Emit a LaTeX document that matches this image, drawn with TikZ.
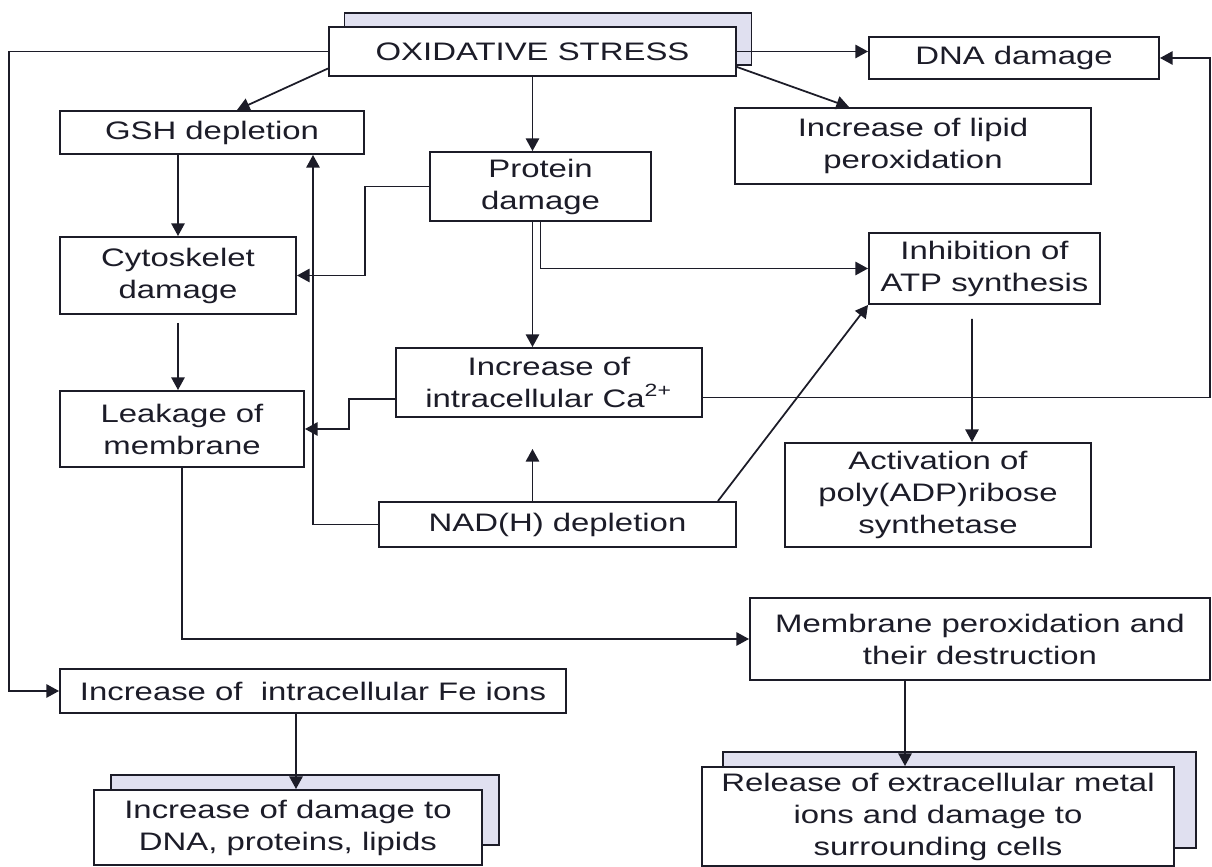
\documentclass[tikz,border=0pt]{standalone}
\usepackage{fontspec}
\setmainfont[FakeStretch=1.3]{Liberation Sans}
\usetikzlibrary{arrows.meta,calc,positioning}
\definecolor{ink}{RGB}{28,28,40}
\definecolor{shade}{RGB}{224,224,240}

\begin{document}
\begin{tikzpicture}[
  x=1cm,
  y=1cm,
  font=\fontsize{7.2}{9.1}\selectfont,
  >=Stealth,
  box/.style={draw=ink, fill=white, line width=0.55pt, align=center, inner sep=1pt, text=ink},
  backbox/.style={draw=ink, fill=shade, line width=0.55pt, inner sep=0pt},
  link/.style={-{Triangle[length=3.6pt,width=3.8pt]}, draw=ink, line width=0.5pt}
]
  \useasboundingbox (0,0) rectangle (12.12,-8.67);

  \node[backbox, minimum width=4.07cm, minimum height=0.52cm] (stressbg) at (5.48,-0.39) {};
  \node[box, minimum width=4.07cm, minimum height=0.49cm] (stress) at (5.325,-0.515) {OXIDATIVE STRESS};

  \node[box, minimum width=2.90cm, minimum height=0.42cm] (dna) at (10.14,-0.58) {DNA damage};
  \node[box, minimum width=3.56cm, minimum height=0.76cm] (lipid) at (9.13,-1.46) {Increase of lipid\\peroxidation};
  \node[box, minimum width=3.04cm, minimum height=0.43cm] (gsh) at (2.12,-1.325) {GSH depletion};
  \node[box, minimum width=2.21cm, minimum height=0.69cm] (protein) at (5.405,-1.865) {Protein\\damage};
  \node[box, minimum width=2.31cm, minimum height=0.71cm] (atp) at (9.845,-2.685) {Inhibition of\\ATP synthesis};
  \node[box, minimum width=2.36cm, minimum height=0.77cm] (cyto) at (1.78,-2.755) {Cytoskelet\\damage};
  \node[box, minimum width=3.06cm, minimum height=0.69cm] (ca) at (5.49,-3.825) {Increase of\\intracellular Ca\textsuperscript{2+}};
  \node[box, minimum width=2.44cm, minimum height=0.76cm] (leak) at (1.82,-4.29) {Leakage of\\membrane};
  \node[box, minimum width=3.57cm, minimum height=0.45cm] (nad) at (5.575,-5.245) {NAD(H) depletion};
  \node[box, minimum width=3.06cm, minimum height=1.04cm] (activ) at (9.38,-4.95) {Activation of\\poly(ADP)ribose\\synthetase};
  \node[box, minimum width=4.60cm, minimum height=0.82cm] (membrane) at (9.80,-6.39) {Membrane peroxidation and\\their destruction};
  \node[box, minimum width=5.06cm, minimum height=0.44cm] (fe) at (3.13,-6.91) {Increase of \ intracellular Fe ions};

  \node[backbox, minimum width=3.88cm, minimum height=0.70cm] (damagebg) at (3.05,-8.10) {};
  \node[box, minimum width=3.88cm, minimum height=0.75cm] (damage) at (2.88,-8.275) {Increase of damage to\\DNA, proteins, lipids};
  \node[backbox, minimum width=4.73cm, minimum height=0.96cm] (releasebg) at (9.595,-8.00) {};
  \node[box, minimum width=4.72cm, minimum height=0.99cm] (release) at (9.38,-8.165) {Release of extracellular metal\\ions and damage to\\surrounding cells};

  \coordinate (catip) at ($(ca.south -| stress.south)+(0,-0.31)$);

  \draw[link] (stress.east) -- (stress.east -| dna.west);
  \draw[link] ([yshift=-1.55mm]stress.east) -- ([xshift=11.5mm]lipid.north west);
  \draw[link] ([yshift=-1.7mm]stress.west) -- ([xshift=2.5mm]gsh.north);
  \draw[link] (stress.south) -- (stress.south |- protein.north);
  \draw[link] (stress.west) -| ([xshift=-5mm]fe.west) -- (fe.west);
  \draw[link] (gsh.south -| cyto.north) -- (cyto.north);
  \draw[link] (protein.west) -- (protein.west -| gsh.east) |- (cyto.east);
  \draw[link] (nad.west) -| ([xshift=10.1mm]gsh.south);
  \draw[link] (protein.south) |- (atp.west);
  \draw[link] (protein.south -| stress.south) -- (ca.north -| stress.south);
  \draw[link] (nad.north -| stress.south) -- (catip);
  \draw[link] ([yshift=-1.65mm]ca.west) -- ++(-0.46,0) |- (leak.east);
  \draw[link] ([yshift=-1.5mm]ca.east) -- ++(5.07,0) |- (dna.east);
  \draw[link] ([yshift=-0.8mm]cyto.south) -- (leak.north -| cyto.south);
  \draw[link] ([xshift=-1.9mm]nad.north east) -- (atp.south west);
  \draw[link] ([shift={(-0.125,-0.14)}]atp.south) -- ([xshift=3.4mm]activ.north);
  \draw[link] (leak.south) |- (membrane.west);
  \draw[link] ([xshift=-7.5mm]membrane.south) -- ([xshift=-3.3mm]release.north);
  \draw[link] ([xshift=-1.7mm]fe.south) -- ([xshift=0.8mm]damage.north);
\end{tikzpicture}
\end{document}
